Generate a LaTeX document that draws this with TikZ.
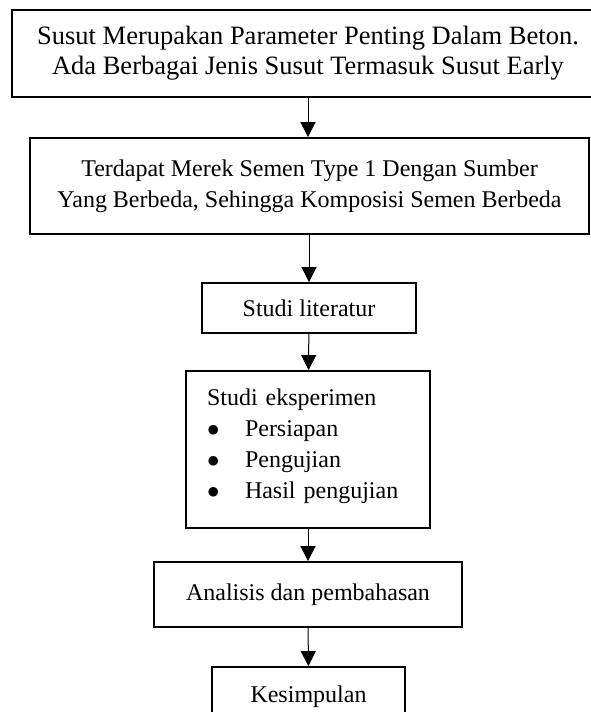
\documentclass[tikz,border=0pt]{standalone}
\usepackage{fontspec}
\setmainfont{Liberation Serif}
\usetikzlibrary{arrows.meta}

\begin{document}
\begin{tikzpicture}[x=1pt,y=-1pt]
  \tikzstyle{box} = [draw=black, line width=1.8pt, inner sep=0pt, align=center, font=\fontsize{24}{31}\selectfont]
  \tikzstyle{flow} = [-{Triangle[length=15pt,width=15pt]}, line width=1pt]
  \newcommand{\butir}{\makebox[38pt][l]{$\bullet$}}
  \useasboundingbox (0,0) rectangle (591,712);
  \clip (0,0) rectangle (591,712);
  \node[box, minimum width=592pt, minimum height=87pt, font=\fontsize{26.5}{30}\selectfont] (masalah) at (308,53.5) {Susut Merupakan Parameter Penting Dalam Beton.\\Ada Berbagai Jenis Susut Termasuk Susut Early};
  \node[box, minimum width=559pt, minimum height=96pt] (semen) at (309.5,186) {Terdapat Merek Semen Type 1 Dengan Sumber\\Yang Berbeda, Sehingga Komposisi Semen Berbeda};
  \node[box, minimum width=214pt, minimum height=50pt] (literatur) at (309,308) {Studi literatur};
  \node[box, minimum width=244pt, minimum height=157pt, text width=202pt, align=left] (eksperimen) at (308,449.5) {Studi eksperimen\\\butir Persiapan\\\butir Pengujian\\\butir Hasil pengujian\rule[-11pt]{0pt}{11pt}};
  \node[box, minimum width=308pt, minimum height=65pt] (analisis) at (308,594.5) {Analisis dan pembahasan};
  \node[box, minimum width=193pt, minimum height=60pt] (kesimpulan) at (308.5,697) {Kesimpulan};
  \draw[flow] (masalah) -- (masalah |- semen.north);
  \draw[flow] (semen.south -| literatur) -- (literatur);
  \draw[flow] (literatur) -- (eksperimen);
  \draw[flow] (eksperimen) -- (analisis);
  \draw[flow] (analisis) -- (kesimpulan);
\end{tikzpicture}
\end{document}
